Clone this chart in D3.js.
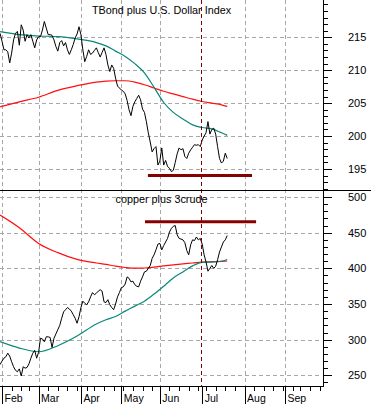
<!DOCTYPE html>
<html>
<head>
<meta charset="utf-8">
<script src="https://cdn.jsdelivr.net/npm/d3@7"></script>
<style>
body { margin: 0; background: #fff; }
svg { display: block; font-family: "Liberation Sans", Arial, sans-serif; }
.grid line { stroke: #a8a8a8; stroke-dasharray: 4,3; shape-rendering: crispEdges; }
.axis path { display: none; }
.axis line { stroke: #000; shape-rendering: crispEdges; }
.axis text { fill: #000; font-size: 11px; }
.xaxis text { font-size: 10.5px; }
.frame { stroke: #000; shape-rendering: crispEdges; }
.title { font-size: 10.8px; fill: #000; }
</style>
</head>
<body>
<div id="chart"></div>
<script>
// trading-day index of the first value (0 = first trading day of Feb)
var startIdx = -1;

var tbondClose = [
  215.6, 214.4, 213.1, 213.1, 212.8, 211.1, 212.6, 214.6, 215.6, 215.9,
  213.8, 216.9, 216.1, 214.4, 215.4, 214.9, 215.4, 214.4, 213.4, 214.6,
  215.1, 215.1, 216.1, 217.4, 216.4, 215.4, 215.4, 215.3, 214.6, 213.6,
  212.9, 214.2, 214.5, 213.7, 214.2, 213.1, 212.4, 213.1, 213.9, 214.9,
  215.5, 216.6, 215.4, 213.1, 211.3, 212.1, 213.1, 212.4, 212.6, 213.0,
  213.4, 212.7, 212.0, 212.7, 213.4, 212.4, 210.8, 209.8, 210.8, 210.3,
  208.8, 207.6, 207.3, 207.0, 206.8, 206.4, 205.4, 204.0, 203.1, 204.5,
  205.2, 205.7, 206.2, 205.5, 204.1, 203.6, 202.2, 200.5, 199.1, 197.6,
  198.1, 198.4, 195.6, 196.2, 198.2, 195.6, 196.3, 195.4, 195.1, 194.6,
  194.8, 196.0, 197.3, 198.2, 197.9, 198.1, 196.9, 196.6, 197.4, 197.9,
  198.3, 198.7, 198.6, 198.7, 198.4, 199.4, 200.0, 200.5, 202.2, 200.3,
  201.0, 201.2, 200.3, 198.4, 196.6, 195.9, 196.2, 197.4, 196.6
];

var copperClose = [
  265, 270, 274, 276, 281, 277, 269, 262, 257, 255,
  259, 249, 262, 260, 261, 266, 274, 281, 285, 274,
  282, 302, 301, 297, 304, 304, 303, 289, 302, 308,
  314, 320, 330, 339, 342, 345, 343, 340, 335, 330,
  323, 332, 345, 354, 351, 349, 353, 360, 366, 363,
  365, 368, 370, 368, 353, 352, 356, 349, 345, 342,
  350, 360, 366, 373, 374, 378, 388, 386, 381, 382,
  377, 375, 374, 382, 388, 395, 396, 400, 404, 414,
  419, 426, 434, 435, 426, 432, 437, 442, 451, 456,
  459, 460, 447, 442, 441, 440, 436, 425, 419, 433,
  440, 439, 444, 440, 442, 434, 419, 409, 396, 400,
  404, 400, 403, 412, 423, 430, 437, 440, 446
];

// moving averages, read at these trading-day indexes
var maIdx = [-1, 9, 19, 29, 39, 49, 54, 59, 64, 69, 74, 79, 84, 89, 94, 99, 104, 109, 114, 117];
var tbondMaShort = [215.85, 215.4, 215.2, 215.1, 214.75, 214.2, 213.7, 212.9, 212.1, 211.0,
                    209.6, 207.4, 205.1, 203.6, 202.6, 201.7, 201.3, 201.1, 200.5, 200.1];
var tbondMaLong = [204.45, 205.2, 205.9, 206.95, 207.65, 208.2, 208.35, 208.4, 208.4, 208.2,
                   207.8, 207.3, 206.8, 206.4, 206.0, 205.6, 205.25, 205.0, 204.75, 204.5];
var copperMaShort = [297.2, 288.2, 283, 291.5, 305, 322, 328, 332.5, 340, 347,
                     354, 364, 375, 386.5, 395, 403.5, 408.5, 408.7, 410, 412.5];
var copperMaLong = [474.8, 457, 435, 422, 412.5, 407.5, 405.5, 403, 401.2, 400.2,
                    400.5, 401.8, 403.5, 405, 406.3, 407.5, 408.8, 409.3, 409.8, 410.3];

var monthLabels = ["Feb", "Mar", "Apr", "May", "Jun", "Jul", "Aug", "Sep"];
var monthIdx = [0, 19, 41, 62, 82, 104, 126, 147];
var weekIdx = [5, 10, 14, 24, 29, 34, 39, 44, 48, 53, 58, 63, 68, 73, 78, 87, 92, 97, 102,
               106, 111, 116, 121, 131, 136, 141, 146, 151, 155, 160, 165];

var tbondTicks = [195, 200, 205, 210, 215];
var copperTicks = [250, 300, 350, 400, 450, 500];

var tbondLevel = {value: 194, from: 75.8, to: 129.9};
var copperLevel = {value: 465.4, from: 74.3, to: 132};
var markerIdx = 104;

var width = 371, height = 404;
var plotRight = 323.5, axisY = 386, splitY = 190;

var svg = d3.select("#chart").append("svg")
    .attr("width", width)
    .attr("height", height);

svg.append("rect").attr("width", width).attr("height", height).attr("fill", "#fff");

var x = d3.scaleLinear().domain([-1.04, 166.76]).range([0, 323]);

var panels = [
  {name: "top", title: "TBond plus U.S. Dollar Index", titleY: 14,
   y: d3.scaleLinear().domain([195, 215]).range([169, 37.3]),
   top: 0, bottom: splitY, close: tbondClose, maShort: tbondMaShort, maLong: tbondMaLong,
   ticks: tbondTicks, minor: d3.range(192, 221, 1), level: tbondLevel},
  {name: "bottom", title: "copper plus 3crude", titleY: 203.3,
   y: d3.scaleLinear().domain([250, 450]).range([375.3, 232.7]),
   top: splitY, bottom: axisY, close: copperClose, maShort: copperMaShort, maLong: copperMaLong,
   ticks: copperTicks, minor: d3.range(240, 511, 10), level: copperLevel}
];

// vertical month grid
svg.append("g").attr("class", "grid")
  .selectAll("line")
  .data(monthIdx.filter(function(d) { return d !== markerIdx; }))
  .enter().append("line")
  .attr("x1", function(d) { return Math.round(x(d)) + 0.5; })
  .attr("x2", function(d) { return Math.round(x(d)) + 0.5; })
  .attr("y1", 0)
  .attr("y2", axisY);

panels.forEach(function(p) {
  var clipId = "clip-" + p.name;
  svg.append("clipPath").attr("id", clipId)
    .append("rect")
    .attr("x", 0).attr("y", p.top)
    .attr("width", plotRight).attr("height", p.bottom - p.top);

  svg.append("g").attr("class", "grid")
    .selectAll("line")
    .data(p.ticks)
    .enter().append("line")
    .attr("x1", 0)
    .attr("x2", 320)
    .attr("y1", function(d) { return Math.round(p.y(d)) + 0.5; })
    .attr("y2", function(d) { return Math.round(p.y(d)) + 0.5; })
    .attr("clip-path", "url(#" + clipId + ")");

  var g = svg.append("g").attr("clip-path", "url(#" + clipId + ")");

  var maLine = d3.line()
      .x(function(d, i) { return x(maIdx[i]); })
      .y(function(d) { return p.y(d); })
      .curve(d3.curveMonotoneX);

  g.append("path").datum(p.maLong)
    .attr("fill", "none").attr("stroke", "#ff1010").attr("stroke-width", 1.2)
    .attr("d", maLine);

  g.append("path").datum(p.maShort)
    .attr("fill", "none").attr("stroke", "#08887a").attr("stroke-width", 1.2)
    .attr("d", maLine);

  g.append("path").datum(p.close)
    .attr("fill", "none").attr("stroke", "#000").attr("stroke-width", 1)
    .attr("d", d3.line()
      .x(function(d, i) { return x(startIdx + i); })
      .y(function(d) { return p.y(d); }));

  g.append("line")
    .attr("x1", x(p.level.from)).attr("x2", x(p.level.to))
    .attr("y1", p.y(p.level.value)).attr("y2", p.y(p.level.value))
    .attr("stroke", "#870000").attr("stroke-width", 3);

  svg.append("text").attr("class", "title")
    .attr("x", 161.5).attr("y", p.titleY)
    .attr("text-anchor", "middle")
    .text(p.title);

  svg.append("g").attr("class", "axis")
    .attr("transform", "translate(" + plotRight + ",0)")
    .call(d3.axisRight(p.y).tickValues(p.minor).tickSize(4).tickFormat(""));

  svg.append("g").attr("class", "axis")
    .attr("transform", "translate(" + plotRight + ",0)")
    .call(d3.axisRight(p.y).tickValues(p.ticks).tickSize(8).tickPadding(16.5).tickFormat(d3.format("d")));
});

// marker line
svg.append("line")
  .attr("x1", Math.round(x(markerIdx)) - 0.5).attr("x2", Math.round(x(markerIdx)) - 0.5)
  .attr("y1", 0).attr("y2", axisY)
  .attr("stroke", "#800000").attr("stroke-dasharray", "4,3");

// frame lines
svg.append("line").attr("class", "frame")
  .attr("x1", 0).attr("x2", width).attr("y1", splitY + 0.5).attr("y2", splitY + 0.5);
svg.append("line").attr("class", "frame")
  .attr("x1", plotRight).attr("x2", plotRight).attr("y1", 0).attr("y2", axisY);
svg.append("line").attr("class", "frame")
  .attr("x1", 0).attr("x2", plotRight).attr("y1", axisY + 0.5).attr("y2", axisY + 0.5);

// x axis
svg.append("g").attr("class", "axis xaxis")
  .attr("transform", "translate(0," + axisY + ")")
  .call(d3.axisBottom(x).tickValues(weekIdx).tickSize(5).tickFormat(""));

var xMajor = svg.append("g").attr("class", "axis xaxis")
  .attr("transform", "translate(0," + axisY + ")")
  .call(d3.axisBottom(x).tickValues(monthIdx).tickSize(18)
    .tickFormat(function(d, i) { return monthLabels[i]; }));

xMajor.selectAll("text")
  .attr("x", 2)
  .attr("y", 15.5)
  .attr("dy", 0)
  .style("text-anchor", "start");
</script>
</body>
</html>
